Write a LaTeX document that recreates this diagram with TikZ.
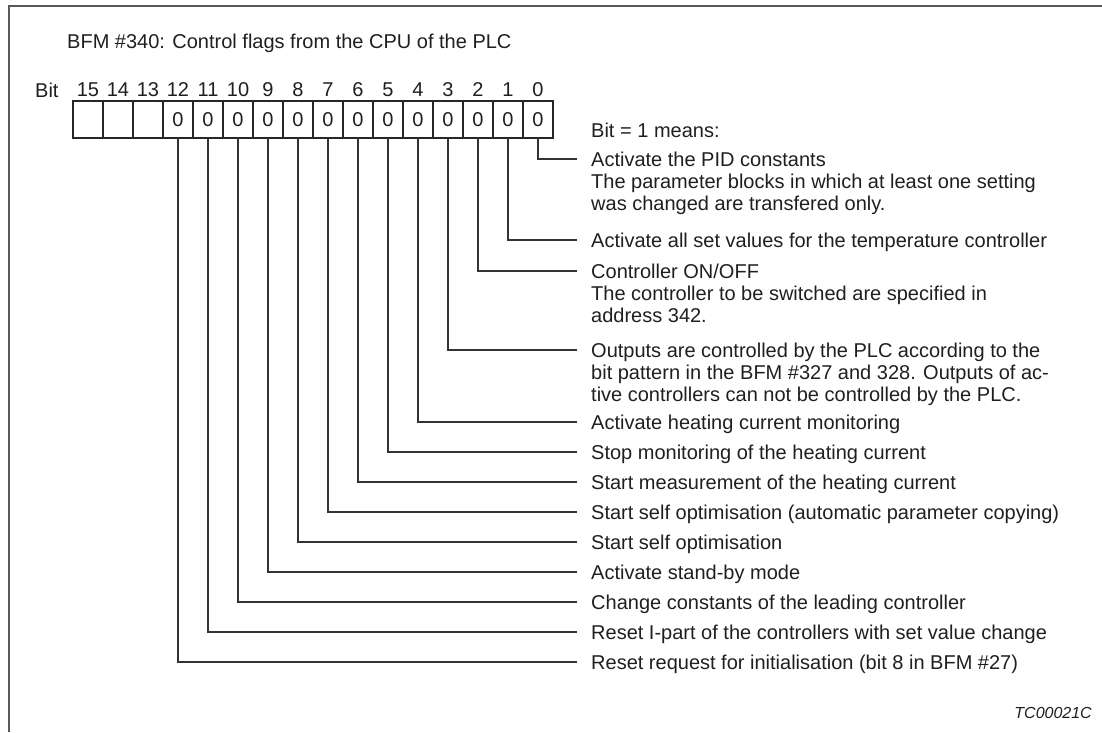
\documentclass[tikz,border=0pt]{standalone}
\usepackage{fontspec}
\setmainfont{Liberation Sans}
\newcommand{\lns}[1]{\begin{tabular}[t]{@{}l@{}}#1\end{tabular}}
\begin{document}
\begin{tikzpicture}[x=1pt,y=-1pt,
  txt/.style={font=\fontsize{20}{22}\selectfont, inner sep=0pt, text=black!88},
  desc/.style={txt, anchor=base west},
  bitbox/.style={draw=black!85, line width=1.3pt, minimum width=30pt, minimum height=37pt, inner sep=0pt, outer sep=0pt, txt, anchor=north west},
  conn/.style={line width=1.3pt, draw=black!80},
  frame/.style={line width=2pt, draw=black!65}]
\useasboundingbox (0,0) rectangle (1102,732);
\draw[frame] (9,732) -- (9,6) -- (1102,6);
\node[txt, anchor=west] (title) at (67,43) {BFM \#340: Control flags from the CPU of the PLC};
\node[txt, anchor=west] (bitlbl) at (35,90) {Bit};
\foreach \b in {13,14,15} {
  \node[bitbox] (b\b) at ({73+30*(15-\b)},101) {};
}
\foreach \b in {0,...,12} {
  \node[bitbox] (b\b) at ({73+30*(15-\b)},101) {0};
}
\foreach \b in {0,...,15} {
  \node[txt] (n\b) at ({88+30*(15-\b)},90) {\b};
}
\node[desc] (means) at (591,137.2) {Bit = 1 means:};
% description anchors (line ends)
\foreach \b/\yy in {0/159,1/240,2/271,3/350,4/422,5/452,6/482,7/512,8/542,9/572,10/602,11/632,12/662} {
  \coordinate (e\b) at (577,\yy);
  \draw[conn] (b\b.south) |- (e\b);
}
\node[desc] (d0) at (591,166.2) {\lns{Activate the PID constants\\The parameter blocks in which at least one setting\\was changed are transfered only.}};
\node[desc] (d1) at (591,247.2) {Activate all set values for the temperature controller};
\node[desc] (d2) at (591,278.2) {\lns{Controller ON/OFF\\The controller to be switched are specified in\\address 342.}};
\node[desc] (d3) at (591,357.2) {\lns{Outputs are controlled by the PLC according to the\\bit pattern in the BFM \#327 and 328. Outputs of ac-\\tive controllers can not be controlled by the PLC.}};
\node[desc] (d4) at (591,429.2) {Activate heating current monitoring};
\node[desc] (d5) at (591,459.2) {Stop monitoring of the heating current};
\node[desc] (d6) at (591,489.2) {Start measurement of the heating current};
\node[desc] (d7) at (591,519.2) {Start self optimisation (automatic parameter copying)};
\node[desc] (d8) at (591,549.2) {Start self optimisation};
\node[desc] (d9) at (591,579.2) {Activate stand-by mode};
\node[desc] (d10) at (591,609.2) {Change constants of the leading controller};
\node[desc] (d11) at (591,639.2) {Reset I-part of the controllers with set value change};
\node[desc] (d12) at (591,669.2) {Reset request for initialisation (bit 8 in BFM \#27)};
\node[txt, font=\fontsize{16}{16}\selectfont\itshape, anchor=east] (code) at (1092,713) {TC00021C};
\end{tikzpicture}
\end{document}
